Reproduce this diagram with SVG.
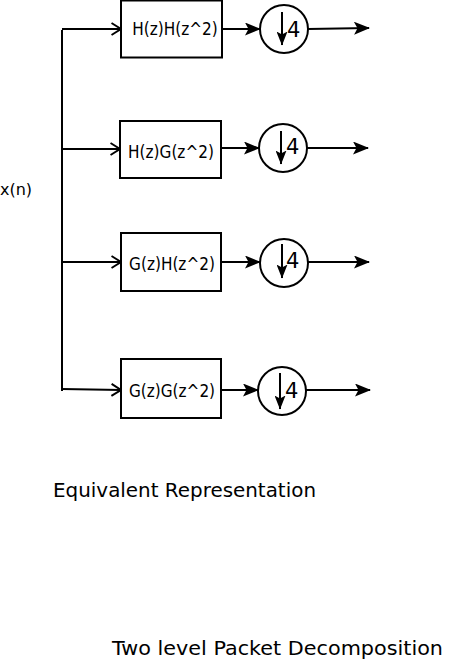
<svg xmlns="http://www.w3.org/2000/svg" width="453" height="661" viewBox="0 0 453 661">
<defs>
<marker id="open" markerWidth="12" markerHeight="14" refX="10.5" refY="7" orient="auto" markerUnits="userSpaceOnUse" viewBox="0 0 12 14">
<path d="M1,1 L10.5,7 L1,13" fill="none" stroke="#000" stroke-width="2"/>
</marker>
<marker id="fill" markerWidth="16" markerHeight="13" refX="15" refY="6.5" orient="auto" markerUnits="userSpaceOnUse" viewBox="0 0 16 13">
<path d="M0,0 L16,6.5 L0,13 L3.5,6.5 Z" fill="#000"/>
</marker>
<marker id="down" markerWidth="14" markerHeight="11" refX="13.5" refY="5.5" orient="auto" markerUnits="userSpaceOnUse" viewBox="0 0 14 11">
<path d="M0,0 L14,5.5 L0,11 L3,5.5 Z" fill="#000"/>
</marker>
</defs>
<style>
.box{fill:#fff;stroke:#000;stroke-width:2}
.circ{fill:#fff;stroke:#000;stroke-width:2}
.ln{fill:none;stroke:#000;stroke-width:2}
.lbl{font-family:"DejaVu Sans Condensed","DejaVu Sans",Verdana,sans-serif;font-stretch:condensed;font-size:17px;fill:#000}
.xn{font-family:"DejaVu Sans",Verdana,sans-serif;font-size:16px;fill:#000}
.four{font-family:"DejaVu Sans",Verdana,sans-serif;font-size:21px;fill:#000}
.cap{font-family:"DejaVu Sans",Verdana,sans-serif;font-size:19.5px;fill:#000}
</style>
<g id="connectors">
<line class="ln" x1="62" y1="30" x2="62" y2="391"/>
<line class="ln" x1="62" y1="29" x2="121" y2="29" marker-end="url(#open)"/>
<line class="ln" x1="62" y1="149" x2="120" y2="149" marker-end="url(#open)"/>
<line class="ln" x1="62" y1="262" x2="121" y2="262" marker-end="url(#open)"/>
<line class="ln" x1="62" y1="389" x2="121" y2="390" marker-end="url(#open)"/>
<line class="ln" x1="222" y1="29" x2="260" y2="29" marker-end="url(#fill)"/>
<line class="ln" x1="221" y1="148" x2="259" y2="148" marker-end="url(#fill)"/>
<line class="ln" x1="221" y1="262" x2="260" y2="262" marker-end="url(#fill)"/>
<line class="ln" x1="221" y1="390" x2="258" y2="390" marker-end="url(#fill)"/>
<line class="ln" x1="308" y1="29" x2="369" y2="28" marker-end="url(#fill)"/>
<line class="ln" x1="307" y1="148" x2="368" y2="148" marker-end="url(#fill)"/>
<line class="ln" x1="308" y1="262" x2="369" y2="262" marker-end="url(#fill)"/>
<line class="ln" x1="306" y1="390" x2="370" y2="390" marker-end="url(#fill)"/>
</g>
<g id="xn"><text class="xn" x="0" y="195">x(n)</text></g>
<g id="hh">
<rect class="box" x="121" y="0.5" width="101" height="57"/>
<text class="lbl" x="175" y="35" text-anchor="middle">H(z)H(z^2)</text>
</g>
<g id="hg">
<rect class="box" x="120" y="121" width="101" height="57"/>
<text class="lbl" x="171" y="158" text-anchor="middle">H(z)G(z^2)</text>
</g>
<g id="gh">
<rect class="box" x="121" y="233" width="100" height="58"/>
<text class="lbl" x="172" y="270" text-anchor="middle">G(z)H(z^2)</text>
</g>
<g id="gg">
<rect class="box" x="121" y="359" width="100" height="59"/>
<text class="lbl" x="172" y="397" text-anchor="middle">G(z)G(z^2)</text>
</g>
<g id="d1">
<circle class="circ" cx="284" cy="29" r="24"/>
<line class="ln" x1="282" y1="12" x2="282" y2="45" marker-end="url(#down)"/>
<text class="four" x="287" y="37">4</text>
</g>
<g id="d2">
<circle class="circ" cx="283" cy="148" r="24"/>
<line class="ln" x1="281" y1="131" x2="281" y2="164" marker-end="url(#down)"/>
<text class="four" x="286" y="154">4</text>
</g>
<g id="d3">
<circle class="circ" cx="284" cy="263" r="24"/>
<line class="ln" x1="282" y1="244" x2="282" y2="278" marker-end="url(#down)"/>
<text class="four" x="286" y="268">4</text>
</g>
<g id="d4">
<circle class="circ" cx="282" cy="391" r="24"/>
<line class="ln" x1="280" y1="373" x2="280" y2="409" marker-end="url(#down)"/>
<text class="four" x="285" y="398">4</text>
</g>
<g id="captions">
<text class="cap" x="53" y="497" textLength="263" lengthAdjust="spacingAndGlyphs">Equivalent Representation</text>
<text class="cap" x="112" y="655" textLength="331" lengthAdjust="spacingAndGlyphs">Two level Packet Decomposition</text>
</g>
</svg>
